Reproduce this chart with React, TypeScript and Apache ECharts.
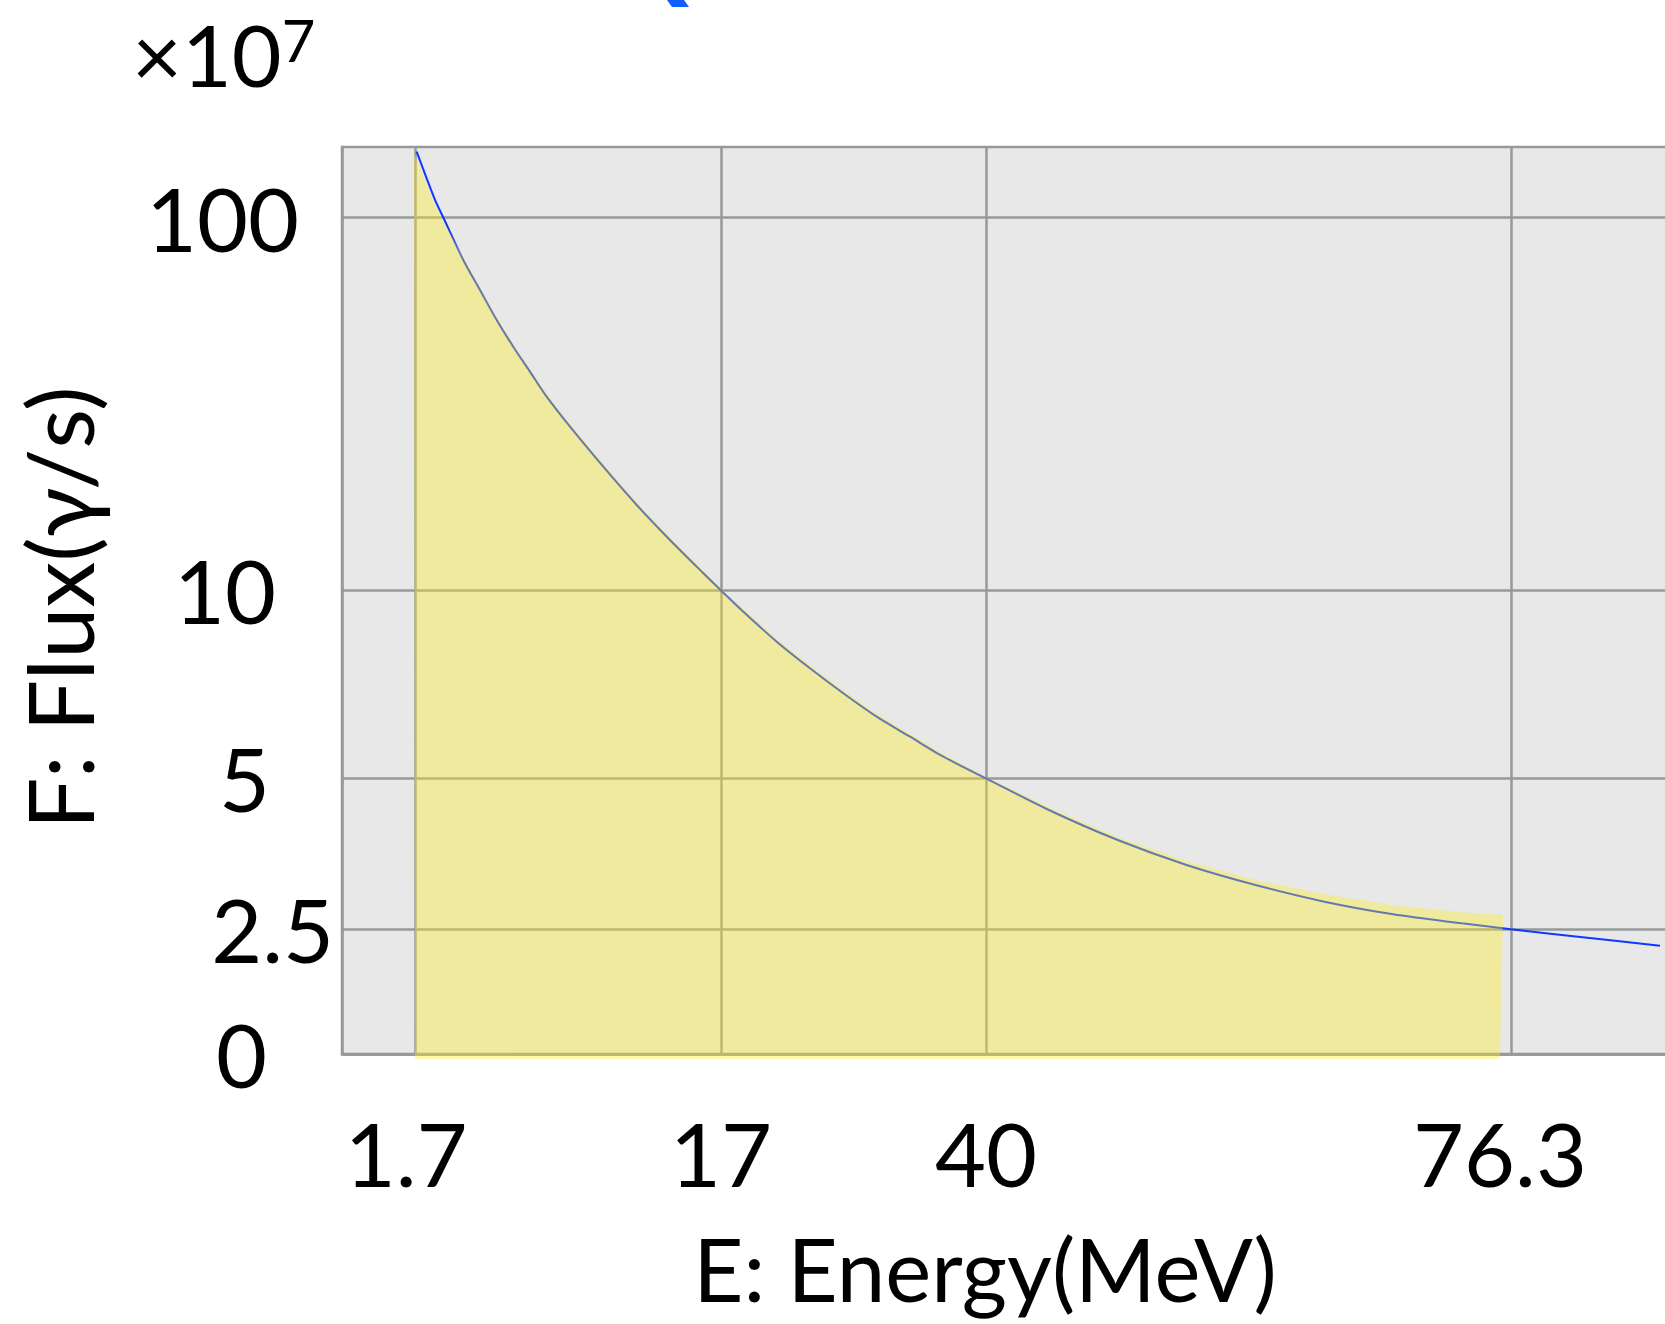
import React, { useEffect, useRef } from 'react';
import * as echarts from 'echarts';

// Schematic axes: tick labels and where they sit along each axis (axis units 0–100)
const energyTickLabels = ['1.7', '17', '40', '76.3'];
const energyTickPos = [5.38, 27.91, 47.42, 86.08];
const fluxTickLabels = ['0', '2.5', '5', '10', '100'];
const fluxTickPos = [0, 13.75, 30.39, 51.11, 92.21];

// Flux curve (in axis units)
const curveE = [5.5, 6.85, 7.46, 8.93, 10.16, 11.39, 12.61, 13.84, 15.07, 16.79, 19.24, 21.7, 24.15, 26.61, 27.91, 29.55, 32.01, 34.46, 36.91, 39.37, 41.83, 44.28, 47.42, 52.05, 57.12, 62.19, 67.27, 72.34, 77.41, 82.47, 86.08, 91.53, 97.05];
const curveF = [99.48, 94.16, 92.23, 87.54, 84.23, 80.93, 77.98, 75.23, 72.47, 69.16, 64.75, 60.53, 56.67, 53.0, 51.11, 48.77, 45.46, 42.53, 39.77, 37.19, 34.98, 32.78, 30.39, 26.9, 23.59, 20.84, 18.63, 16.79, 15.4, 14.41, 13.75, 12.84, 11.94];

// Shaded (integrated) region outline
const shadeE = [5.3, 6.7, 7.31, 8.93, 10.16, 11.39, 12.61, 13.84, 15.07, 16.79, 19.24, 21.7, 24.15, 26.61, 27.91, 29.55, 32.01, 34.46, 36.91, 39.37, 41.83, 44.28, 47.42, 52.05, 57.12, 62.19, 67.27, 72.34, 77.41, 82.47, 85.49, 85.27, 5.38];
const shadeF = [99.34, 94.16, 92.23, 87.87, 84.56, 81.26, 78.31, 75.56, 72.8, 69.49, 65.08, 60.86, 57.0, 53.33, 51.32, 49.1, 45.79, 42.86, 40.1, 37.52, 35.31, 33.11, 30.54, 27.23, 23.93, 21.28, 19.18, 17.64, 16.39, 15.62, 15.33, -0.55, -0.55];

// Scale factor shown above the y axis
const scaleBase = '×10';
const scaleExponent = '7';

function nearestIndex(arr: number[], v: number) {
  let best = 0;
  for (let i = 1; i < arr.length; i++) {
    if (Math.abs(arr[i] - v) < Math.abs(arr[best] - v)) best = i;
  }
  return best;
}

export default function App() {
  const ref = useRef<HTMLDivElement>(null);

  useEffect(() => {
    if (!ref.current) return;
    const chart = echarts.init(ref.current, null, { renderer: 'svg' });
    const fontFamily = 'Lato, "Noto Sans", sans-serif';
    const gridColor = '#979999';
    const labelSize = 88;

    const yPad: Record<string, number> = { '0': 67, '2.5': 0, '5': 64, '10': 58, '100': 35 };
    const xPad: Record<string, number> = { '1.7': 18, '17': 0, '40': 0, '76.3': 22 };

    const yRich: Record<string, any> = {};
    fluxTickLabels.forEach((l, i) => {
      yRich['y' + i] = { fontFamily, fontSize: labelSize, lineHeight: labelSize, color: '#000', padding: [0, yPad[l] || 0, 0, 0] };
    });
    const xRich: Record<string, any> = {};
    energyTickLabels.forEach((l, i) => {
      xRich['x' + i] = { fontFamily, fontSize: labelSize, lineHeight: labelSize, color: '#000', padding: [0, xPad[l] || 0, 0, 0] };
    });

    const option: any = {
      animation: false,
      backgroundColor: '#ffffff',
      title: {
        text: '{a|' + scaleBase + '}{b|' + scaleExponent + '}',
        left: 132,
        top: 10,
        padding: 0,
        textStyle: {
          fontFamily,
          fontSize: 86,
          lineHeight: 86,
          fontWeight: 'normal',
          color: '#000',
          rich: {
            a: { fontFamily, fontSize: 86, lineHeight: 86, color: '#000', verticalAlign: 'middle' },
            b: { fontFamily, fontSize: 58, lineHeight: 58, color: '#000', verticalAlign: 'top' },
          },
        },
      },
      grid: {
        left: 342,
        top: 147,
        right: 0,
        bottom: 270,
        show: true,
        backgroundColor: '#e8e8e8',
        borderColor: gridColor,
        borderWidth: 2.5,
        containLabel: false,
        outerBoundsMode: 'none',
      },
      xAxis: {
        type: 'value',
        min: 0,
        max: 100,
        name: 'E: Energy(MeV)',
        nameLocation: 'middle',
        nameGap: 214,
        nameTextStyle: {
          fontFamily,
          fontSize: 87,
          color: '#000',
          align: 'center',
          verticalAlign: 'middle',
          padding: [0, 72, 0, 0],
        },
        axisLine: { show: true, lineStyle: { color: gridColor, width: 2.5 } },
        axisTick: { show: false, customValues: energyTickPos },
        axisLabel: {
          customValues: energyTickPos,
          margin: 55,
          verticalAlign: 'top',
          formatter: (v: number) => {
            const i = nearestIndex(energyTickPos, v);
            return '{x' + i + '|' + energyTickLabels[i] + '}';
          },
          rich: xRich,
        },
        splitLine: { show: true, lineStyle: { color: gridColor, width: 2.5 } },
      },
      yAxis: {
        type: 'value',
        min: 0,
        max: 100,
        name: 'F: Flux(γ/s)',
        nameLocation: 'middle',
        nameRotate: 90,
        nameGap: 284,
        nameTextStyle: {
          fontFamily,
          fontSize: 92,
          color: '#000',
          align: 'center',
          verticalAlign: 'middle',
          padding: [0, 15, 0, 0],
        },
        axisLine: { show: true, lineStyle: { color: gridColor, width: 2.5 } },
        axisTick: { show: false, customValues: fluxTickPos },
        axisLabel: {
          customValues: fluxTickPos,
          margin: 8,
          align: 'right',
          formatter: (v: number) => {
            const i = nearestIndex(fluxTickPos, v);
            return '{y' + i + '|' + fluxTickLabels[i] + '}';
          },
          rich: yRich,
        },
        splitLine: { show: true, lineStyle: { color: gridColor, width: 2.5 } },
      },
      graphic: [
        {
          type: 'polygon',
          shape: { points: [[667, 0], [684, 0], [689, 7], [672, 7]] },
          style: { fill: '#1060ff' },
        },
      ],
      series: [
        {
          type: 'line',
          data: curveE.map((e, i) => [e, curveF[i]]),
          showSymbol: false,
          smooth: 0.3,
          lineStyle: { color: '#1038ff', width: 2 },
          z: 2,
          silent: true,
        },
        {
          type: 'custom',
          data: shadeE.map((e, i) => [e, shadeF[i]]),
          encode: { x: 0, y: 1 },
          clip: false,
          z: 3,
          silent: true,
          renderItem: (params: any, api: any) => {
            if (params.dataIndex !== 0) return null;
            const pts = shadeE.map((e, i) => api.coord([e, shadeF[i]]));
            return {
              type: 'polygon',
              shape: { points: pts },
              style: { fill: 'rgba(255,238,30,0.36)' },
            };
          },
        },
      ],
    };

    chart.setOption(option);
    return () => chart.dispose();
  }, []);

  return (
    <div style={{ position: 'absolute', left: 0, top: 0, width: 1665, height: 1324, overflow: 'hidden', background: '#fff' }}>
      <div ref={ref} style={{ width: 1700, height: 1324 }} />
    </div>
  );
}
